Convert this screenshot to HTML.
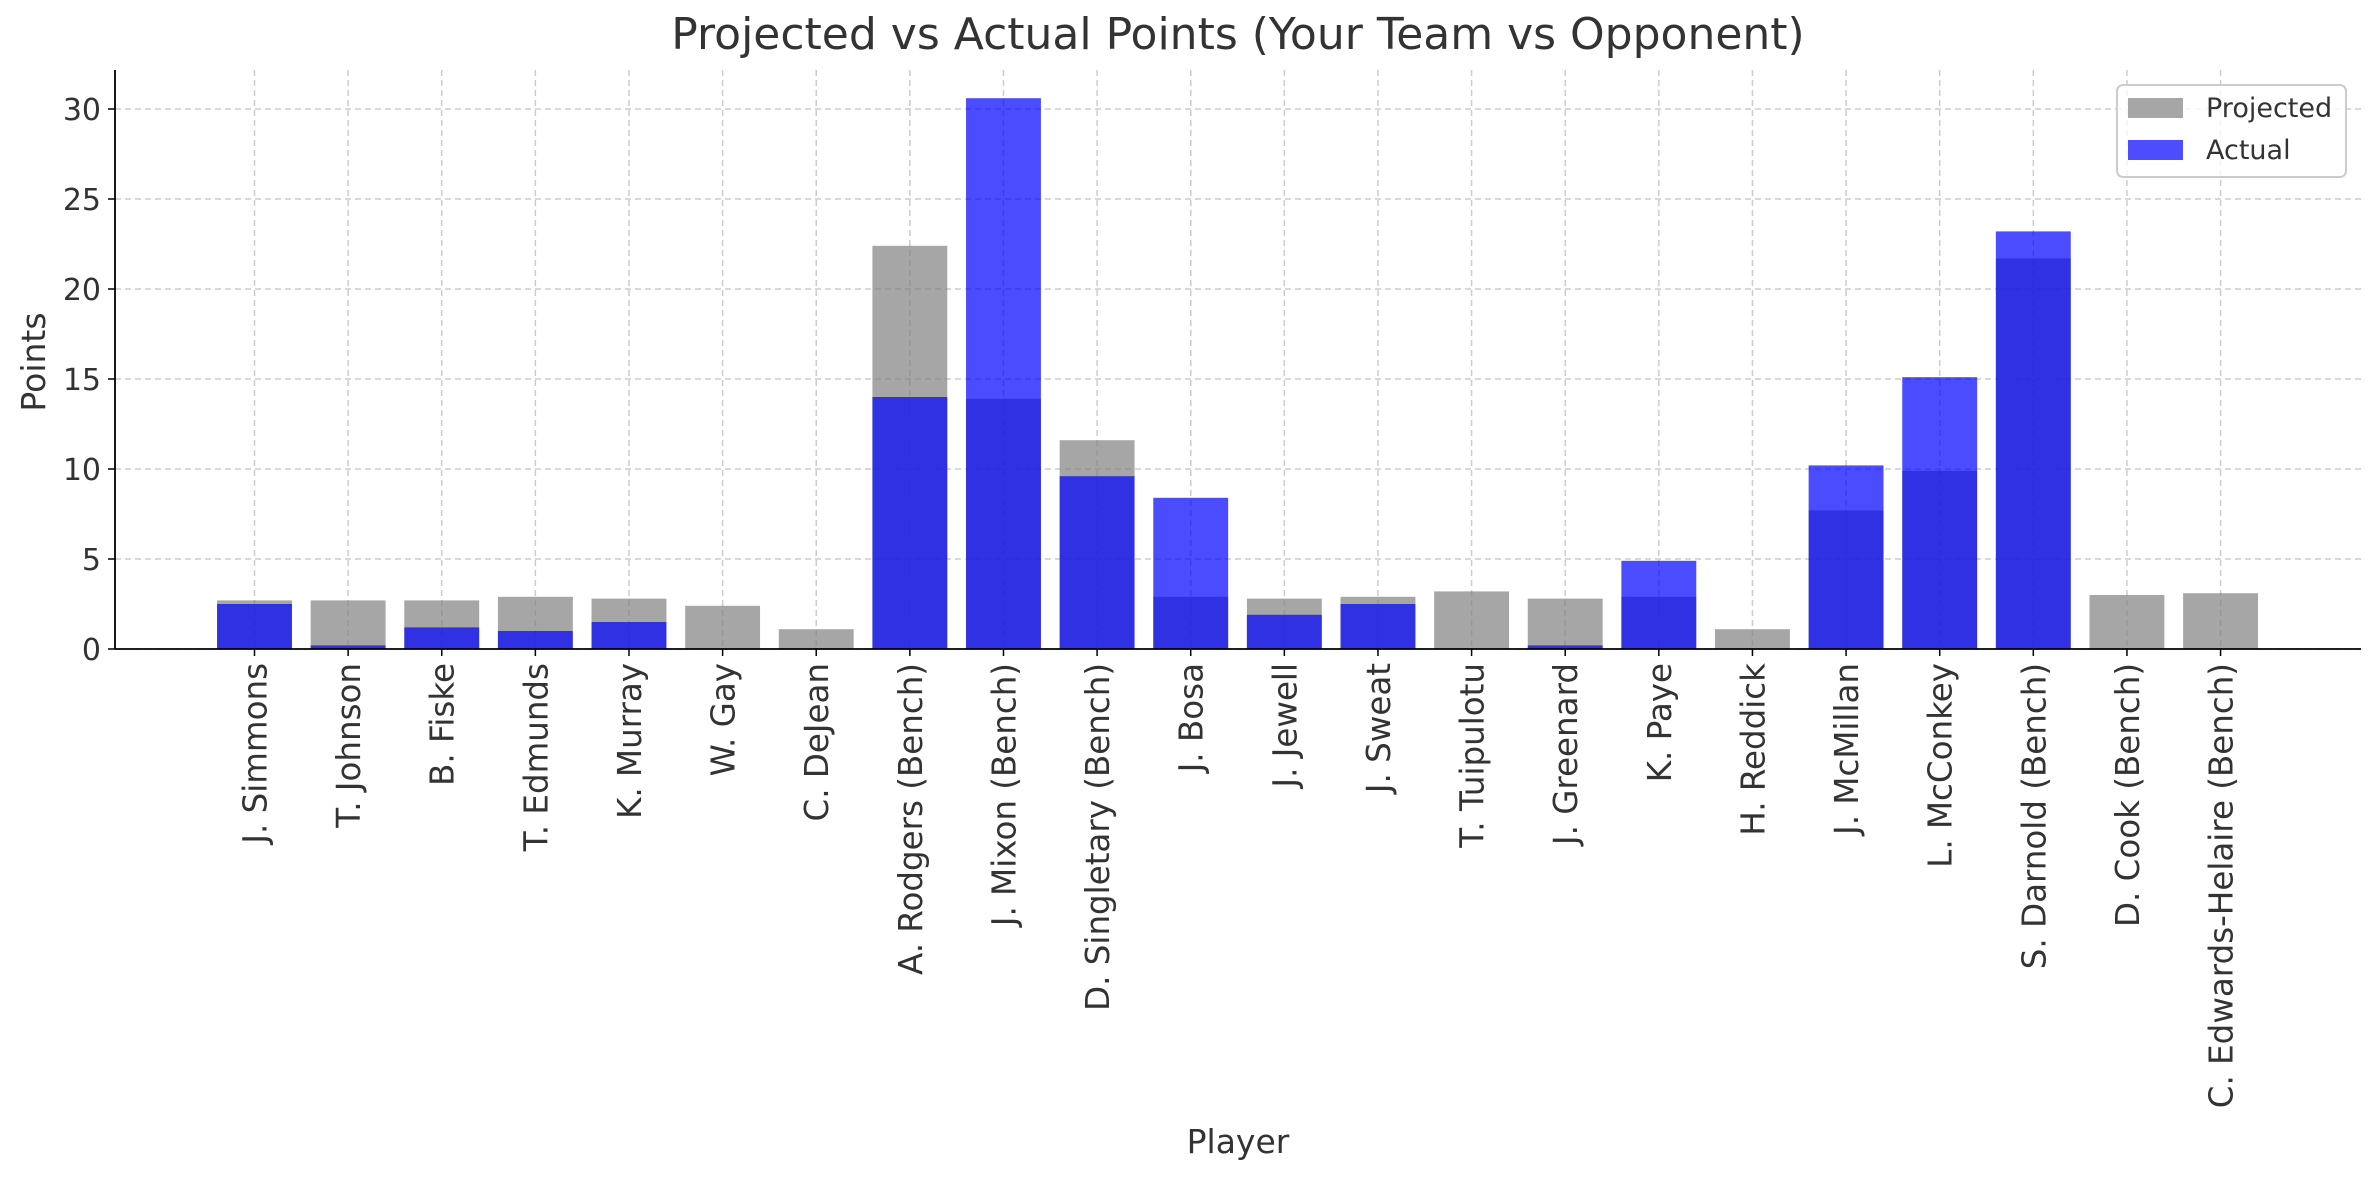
<!DOCTYPE html>
<html><head><meta charset="utf-8"><style>
body{margin:0;background:#fff}
svg text{font-family:"DejaVu Sans","Liberation Sans",sans-serif;fill:#333}
</style></head><body>
<svg id="chart" width="2379" height="1180" xmlns="http://www.w3.org/2000/svg">
<rect width="2379" height="1180" fill="#fff"/>
<text x="1238" y="49" font-size="44" text-anchor="middle">Projected vs Actual Points (Your Team vs Opponent)</text>
<g id="grid"></g>
<g id="bars"></g>
<g id="axes"></g>
<text transform="translate(45,362) rotate(-90)" font-size="33" text-anchor="middle">Points</text>
<text x="1238" y="1153" font-size="33" text-anchor="middle">Player</text>
<g>
<rect x="2117" y="85" width="229" height="92" rx="6" fill="#fff" fill-opacity="0.8" stroke="#ccc" stroke-width="2"/>
<rect x="2128" y="98" width="55" height="20" fill="#a6a6a6"/>
<text x="2206" y="117" font-size="27">Projected</text>
<rect x="2128" y="140" width="55" height="20" fill="#4d4dff"/>
<text x="2206" y="159" font-size="27">Actual</text>
</g>
</svg>
<script>
const players=["J. Simmons","T. Johnson","B. Fiske","T. Edmunds","K. Murray","W. Gay","C. DeJean","A. Rodgers (Bench)","J. Mixon (Bench)","D. Singletary (Bench)","J. Bosa","J. Jewell","J. Sweat","T. Tuipulotu","J. Greenard","K. Paye","H. Reddick","J. McMillan","L. McConkey","S. Darnold (Bench)","D. Cook (Bench)","C. Edwards-Helaire (Bench)"];
const projected=[2.7,2.7,2.7,2.9,2.8,2.4,1.1,22.4,13.9,11.6,2.9,2.8,2.9,3.2,2.8,2.9,1.1,7.7,9.9,21.7,3.0,3.1];
const actual=[2.5,0.2,1.2,1.0,1.5,0,0,14.0,30.6,9.6,8.4,1.9,2.5,0,0.2,4.9,0,10.2,15.1,23.2,0,0];
const yTicks=[0,5,10,15,20,25,30];
const NS="http://www.w3.org/2000/svg";
const L=115,R=2361,T=70,B=649;
const xMin=-1.49,xMax=22.5,yMin=0,yMax=(B-T)/18.0;
const x=v=>L+(v-xMin)/(xMax-xMin)*(R-L);
const y=v=>B-(v-yMin)/(yMax-yMin)*(B-T);
const bw=0.8*(x(1)-x(0));
function mk(tag,attrs,parent){const e=document.createElementNS(NS,tag);for(const k in attrs)e.setAttribute(k,attrs[k]);parent.appendChild(e);return e;}
const grid=document.getElementById('grid'),bars=document.getElementById('bars'),axes=document.getElementById('axes');
yTicks.forEach(t=>{
 const g=mk('line',{x1:L,x2:R,y1:y(t),y2:y(t),stroke:'#ccc','stroke-width':1.5,'stroke-dasharray':'6,4'},grid);
 
 
 const tk=mk('line',{x1:L-7,x2:L,y1:y(t),y2:y(t),stroke:'#000','stroke-width':1.5},axes);
 
 
 const tx=mk('text',{x:L-14,y:y(t)+11,'font-size':30,'text-anchor':'end'},axes);
 tx.textContent=t;
 
 
});
players.forEach((p,i)=>{
 const cx=x(i);
 const g=mk('line',{x1:cx,x2:cx,y1:T,y2:B,stroke:'#ccc','stroke-width':1.5,'stroke-dasharray':'6,4'},grid);
 
 
 const pr=mk('rect',{x:cx-bw/2,y:y(projected[i]),width:bw,height:y(0)-y(projected[i]),fill:'#808080','fill-opacity':0.7},bars);
 
 
 const ac=mk('rect',{x:cx-bw/2,y:y(actual[i]),width:bw,height:y(0)-y(actual[i]),fill:'#0000ff','fill-opacity':0.7},bars);
 
 
 const tk=mk('line',{x1:cx,x2:cx,y1:B,y2:B+7,stroke:'#000','stroke-width':1.5},axes);
 
 
 const tx=mk('text',{transform:`translate(${cx+12},${B+14}) rotate(-90)`,'font-size':32.5,'text-anchor':'end'},axes);
 tx.textContent=p;
 
 
});
const la=mk('line',{x1:L,x2:L,y1:T,y2:B,stroke:'#000','stroke-width':1.8},axes);


const ba=mk('line',{x1:L,x2:R,y1:B,y2:B,stroke:'#000','stroke-width':1.8},axes);


</script>
</body></html>
